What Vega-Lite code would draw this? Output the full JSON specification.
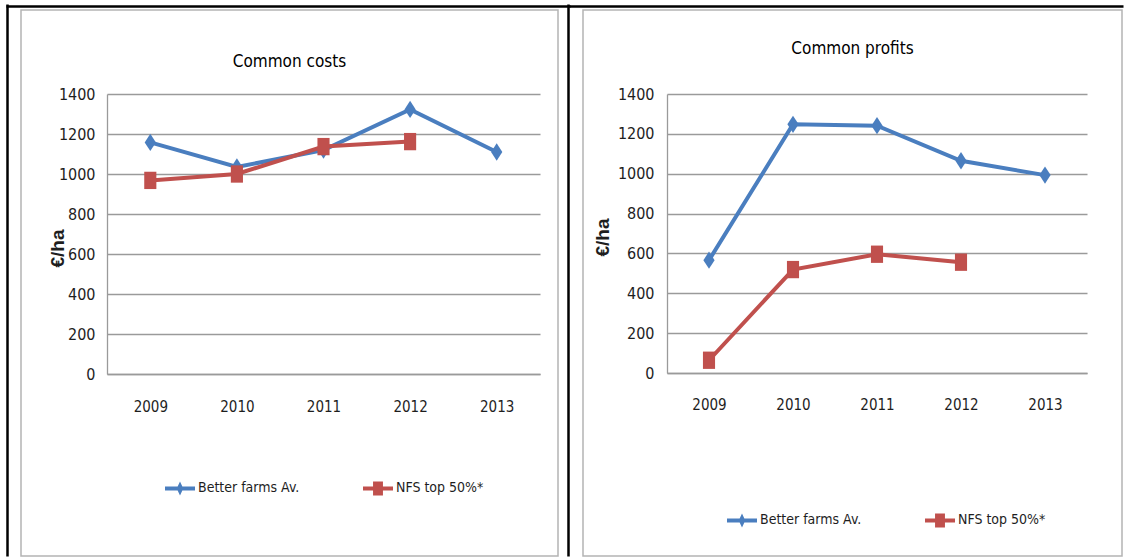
{
  "$schema": "https://vega.github.io/schema/vega-lite/v6.json",
  "background": "white",
  "padding": {"left": 6, "top": 5, "right": 0, "bottom": 0},
  "bounds": "flush",
  "spacing": 25,
  "config": {
    "font": "DejaVu Sans Condensed, Roboto, Liberation Sans, sans-serif",
    "view": {"stroke": "#b4b4b4", "strokeWidth": 1.5},
    "axis": {"labelFont": "DejaVu Sans Condensed, Roboto, Liberation Sans, sans-serif", "labelColor": "#1e1e1e", "titleColor": "#1e1e1e"},
    "legend": {"labelFont": "DejaVu Sans Condensed, Roboto, Liberation Sans, sans-serif"}
  },
  "data": {
    "values": [
      {"panel": "costs", "series": "Better farms Av.", "year": "2009", "value": 1158},
      {"panel": "costs", "series": "Better farms Av.", "year": "2010", "value": 1035},
      {"panel": "costs", "series": "Better farms Av.", "year": "2011", "value": 1120},
      {"panel": "costs", "series": "Better farms Av.", "year": "2012", "value": 1323},
      {"panel": "costs", "series": "Better farms Av.", "year": "2013", "value": 1110},
      {"panel": "costs", "series": "NFS top 50%*", "year": "2009", "value": 968},
      {"panel": "costs", "series": "NFS top 50%*", "year": "2010", "value": 1000},
      {"panel": "costs", "series": "NFS top 50%*", "year": "2011", "value": 1137},
      {"panel": "costs", "series": "NFS top 50%*", "year": "2012", "value": 1162},
      {"panel": "profits", "series": "Better farms Av.", "year": "2009", "value": 566},
      {"panel": "profits", "series": "Better farms Av.", "year": "2010", "value": 1248},
      {"panel": "profits", "series": "Better farms Av.", "year": "2011", "value": 1241},
      {"panel": "profits", "series": "Better farms Av.", "year": "2012", "value": 1065},
      {"panel": "profits", "series": "Better farms Av.", "year": "2013", "value": 993},
      {"panel": "profits", "series": "NFS top 50%*", "year": "2009", "value": 64},
      {"panel": "profits", "series": "NFS top 50%*", "year": "2010", "value": 519},
      {"panel": "profits", "series": "NFS top 50%*", "year": "2011", "value": 596},
      {"panel": "profits", "series": "NFS top 50%*", "year": "2012", "value": 556}
    ]
  },
  "resolve": {"scale": {"color": "independent", "shape": "independent"}, "legend": {"color": "independent", "shape": "independent"}},
  "hconcat": [
    {
      "width": 537,
      "height": 546,
      "title": {"text": "Common costs", "frame": "group", "anchor": "middle", "orient": "top", "offset": -73, "baseline": "middle", "fontSize": 17, "fontWeight": "normal", "color": "#000000"},
      "layer": [
        {
          "data": {"values": [{"d": 0.5}]},
          "mark": {"type": "point", "opacity": 0},
          "encoding": {
            "x": {"field": "d", "type": "quantitative", "scale": {"domain": [0, 1], "range": [-15, 549]},
                  "axis": {"orient": "top", "offset": 4, "domainColor": "#000000", "domainWidth": 2.5, "labels": false, "ticks": false, "grid": false, "title": null}},
            "y": {"field": "d", "type": "quantitative", "scale": {"domain": [0, 1], "range": [546, -6]},
                  "axis": {"orient": "left", "offset": 14, "domainColor": "#000000", "domainWidth": 2.5, "labels": false, "ticks": false, "grid": false, "title": null}}
          }
        },
        {
          "transform": [{"filter": "datum.panel === 'costs'"}],
          "encoding": {
            "x": {"field": "year", "type": "ordinal",
                  "scale": {"type": "point", "domain": ["2009", "2010", "2011", "2012", "2013"], "range": [86, 519], "padding": 0.5},
                  "axis": {"orient": "bottom", "offset": -182, "ticks": false, "tickSize": 0, "labelPadding": 25, "labelAngle": 0, "labelFontSize": 15, "domainColor": "#9a9a9a", "domainWidth": 1.3, "grid": false, "title": null}},
            "y": {"field": "value", "type": "quantitative",
                  "scale": {"domain": [0, 1400], "range": [364, 84], "nice": false, "zero": true},
                  "axis": {"orient": "left", "offset": -86, "values": [0, 200, 400, 600, 800, 1000, 1200, 1400], "format": "d", "ticks": false, "tickSize": 0, "labelPadding": 12, "labelFontSize": 16,
                           "domainColor": "#9a9a9a", "domainWidth": 1.3, "grid": true, "gridColor": "#9a9a9a", "gridWidth": 1.3, "gridOpacity": 1,
                           "title": "€/ha", "titleFont": "Liberation Sans", "titleFontSize": 19, "titleFontWeight": "bold", "titleAngle": 270, "titleAlign": "center", "titleBaseline": "middle", "titleX": -50, "titleY": 238}}
          },
          "layer": [
            {"mark": {"type": "line", "strokeWidth": 4},
             "encoding": {"color": {"field": "series", "type": "nominal", "scale": {"domain": ["Better farms Av.", "NFS top 50%*"], "range": ["#4a7ebf", "#c0504d"]}, "legend": null}}},
            {"mark": {"type": "point", "filled": true, "opacity": 1, "size": 300},
             "encoding": {"color": {"field": "series", "type": "nominal", "scale": {"domain": ["Better farms Av.", "NFS top 50%*"], "range": ["#4a7ebf", "#c0504d"]}, "legend": null},
                          "shape": {"field": "series", "type": "nominal",
                                    "scale": {"domain": ["Better farms Av.", "NFS top 50%*"], "range": ["M0,-1L0.65,0L0,1L-0.65,0Z", "M-0.7,-1H0.7V1H-0.7Z"]},
                                    "legend": null}}},
            {"transform": [{"filter": "datum.year === 'none'"}],
             "mark": {"type": "point", "filled": true, "opacity": 1, "size": 900},
             "encoding": {
               "color": {"field": "series", "type": "nominal", "scale": {"domain": ["Better farms Av.", "NFS top 50%*"], "range": ["#4a7ebf", "#c0504d"]},
                         "legend": {"title": null, "orient": "none", "legendX": 144, "legendY": 463, "direction": "horizontal", "columns": 2, "columnPadding": 63, "padding": 0,
                                    "symbolSize": 900, "symbolStrokeWidth": 0, "labelOffset": 3, "labelFontSize": 14, "labelColor": "#1e1e1e"}},
               "shape": {"field": "series", "type": "nominal",
                         "scale": {"domain": ["Better farms Av.", "NFS top 50%*"], "range": ["M-1,-0.13H1V0.13H-1Z M0,-0.47L0.22,0L0,0.47L-0.22,0Z", "M-1,-0.13H1V0.13H-1Z M-0.33,-0.47H0.33V0.47H-0.33Z"]},
                         "legend": {"title": null, "orient": "none", "legendX": 144, "legendY": 463, "direction": "horizontal", "columns": 2, "columnPadding": 63, "padding": 0,
                                    "symbolSize": 900, "symbolStrokeWidth": 0, "labelOffset": 3, "labelFontSize": 14, "labelColor": "#1e1e1e"}}
             }}
          ],
          "resolve": {"scale": {"color": "independent", "shape": "independent"}}
        }
      ],
      "resolve": {"scale": {"x": "independent", "y": "independent"}}
    },
    {
      "width": 539,
      "height": 546,
      "title": {"text": "Common profits", "frame": "group", "anchor": "middle", "orient": "top", "offset": -60, "baseline": "middle", "fontSize": 17, "fontWeight": "normal", "color": "#000000"},
      "layer": [
        {
          "data": {"values": [{"d": 0.5}]},
          "mark": {"type": "point", "opacity": 0},
          "encoding": {
            "x": {"field": "d", "type": "quantitative", "scale": {"domain": [0, 1], "range": [-14, 540]},
                  "axis": {"orient": "top", "offset": 4, "domainColor": "#000000", "domainWidth": 2.5, "labels": false, "ticks": false, "grid": false, "title": null}},
            "y": {"field": "d", "type": "quantitative", "scale": {"domain": [0, 1], "range": [546, -6]},
                  "axis": {"orient": "left", "offset": 15, "domainColor": "#000000", "domainWidth": 2.5, "labels": false, "ticks": false, "grid": false, "title": null}}
          }
        },
        {
          "transform": [{"filter": "datum.panel === 'profits'"}],
          "encoding": {
            "x": {"field": "year", "type": "ordinal",
                  "scale": {"type": "point", "domain": ["2009", "2010", "2011", "2012", "2013"], "range": [84, 504], "padding": 0.5},
                  "axis": {"orient": "bottom", "offset": -183, "ticks": false, "tickSize": 0, "labelPadding": 24, "labelAngle": 0, "labelFontSize": 15, "domainColor": "#9a9a9a", "domainWidth": 1.3, "grid": false, "title": null}},
            "y": {"field": "value", "type": "quantitative",
                  "scale": {"domain": [0, 1400], "range": [363, 84], "nice": false, "zero": true},
                  "axis": {"orient": "left", "offset": -84, "values": [0, 200, 400, 600, 800, 1000, 1200, 1400], "format": "d", "ticks": false, "tickSize": 0, "labelPadding": 13, "labelFontSize": 16,
                           "domainColor": "#9a9a9a", "domainWidth": 1.3, "grid": true, "gridColor": "#9a9a9a", "gridWidth": 1.3, "gridOpacity": 1,
                           "title": "€/ha", "titleFont": "Liberation Sans", "titleFontSize": 19, "titleFontWeight": "bold", "titleAngle": 270, "titleAlign": "center", "titleBaseline": "middle", "titleX": -65, "titleY": 227}}
          },
          "layer": [
            {"mark": {"type": "line", "strokeWidth": 4},
             "encoding": {"color": {"field": "series", "type": "nominal", "scale": {"domain": ["Better farms Av.", "NFS top 50%*"], "range": ["#4a7ebf", "#c0504d"]}, "legend": null}}},
            {"mark": {"type": "point", "filled": true, "opacity": 1, "size": 300},
             "encoding": {"color": {"field": "series", "type": "nominal", "scale": {"domain": ["Better farms Av.", "NFS top 50%*"], "range": ["#4a7ebf", "#c0504d"]}, "legend": null},
                          "shape": {"field": "series", "type": "nominal",
                                    "scale": {"domain": ["Better farms Av.", "NFS top 50%*"], "range": ["M0,-1L0.65,0L0,1L-0.65,0Z", "M-0.7,-1H0.7V1H-0.7Z"]},
                                    "legend": null}}},
            {"transform": [{"filter": "datum.year === 'none'"}],
             "mark": {"type": "point", "filled": true, "opacity": 1, "size": 900},
             "encoding": {
               "color": {"field": "series", "type": "nominal", "scale": {"domain": ["Better farms Av.", "NFS top 50%*"], "range": ["#4a7ebf", "#c0504d"]},
                         "legend": {"title": null, "orient": "none", "legendX": 144, "legendY": 495, "direction": "horizontal", "columns": 2, "columnPadding": 63, "padding": 0,
                                    "symbolSize": 900, "symbolStrokeWidth": 0, "labelOffset": 3, "labelFontSize": 14, "labelColor": "#1e1e1e"}},
               "shape": {"field": "series", "type": "nominal",
                         "scale": {"domain": ["Better farms Av.", "NFS top 50%*"], "range": ["M-1,-0.13H1V0.13H-1Z M0,-0.47L0.22,0L0,0.47L-0.22,0Z", "M-1,-0.13H1V0.13H-1Z M-0.33,-0.47H0.33V0.47H-0.33Z"]},
                         "legend": {"title": null, "orient": "none", "legendX": 144, "legendY": 495, "direction": "horizontal", "columns": 2, "columnPadding": 63, "padding": 0,
                                    "symbolSize": 900, "symbolStrokeWidth": 0, "labelOffset": 3, "labelFontSize": 14, "labelColor": "#1e1e1e"}}
             }}
          ],
          "resolve": {"scale": {"color": "independent", "shape": "independent"}}
        }
      ],
      "resolve": {"scale": {"x": "independent", "y": "independent"}}
    }
  ]
}
